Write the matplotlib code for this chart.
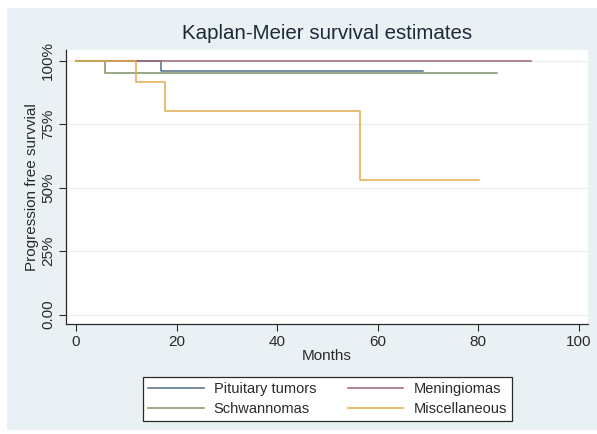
import matplotlib
matplotlib.use("Agg")
import matplotlib.pyplot as plt
from matplotlib.patches import Rectangle
from matplotlib.ticker import FixedLocator

plt.rcParams['font.family'] = ['Liberation Sans', 'DejaVu Sans']

# Data (step survival curves)
pit_t = [0, 16.9, 68.9]
pit_s = [1.0, 0.958, 0.958]
men_t = [0, 90.4]
men_s = [1.0, 1.0]
sch_t = [0, 5.8, 83.7]
sch_s = [1.0, 0.952, 0.952]
misc_t = [0, 11.9, 17.6, 56.4, 80.1]
misc_s = [1.0, 0.917, 0.80, 0.531, 0.531]

series_names = ["Pituitary tumors", "Meningiomas", "Schwannomas", "Miscellaneous"]
colors = ["#4f6f86", "#9c6470", "#7f916a", "#e2aa4c"]

xticks = [0, 20, 40, 60, 80, 100]
yticks = [0, 0.25, 0.5, 0.75, 1.0]
yticklabels = ["0.00", "25%", "50%", "75%", "100%"]

W, H = 597, 434
fig = plt.figure(figsize=(W / 100, H / 100), dpi=100)
fig.patch.set_facecolor("white")
bg = "#eaf1f4"
fig.patches.append(Rectangle((7 / W, 4 / H), 1 - 7 / W, (H - 12) / H,
                             transform=fig.transFigure, facecolor=bg,
                             edgecolor="none", zorder=-10))

ax = fig.add_axes([66 / W, 1 - 324 / H, (588 - 66) / W, (324 - 50) / H])
ax.set_facecolor("white")

data = [(pit_t, pit_s), (men_t, men_s), (sch_t, sch_s), (misc_t, misc_s)]
handles = []
for (t, s), c, name in zip(data, colors, series_names):
    h, = ax.step(t, s, where="post", color=c, lw=1.1, label=name)
    handles.append(h)

ax.set_xlim(-2, 101.8)
ax.set_ylim(-0.037, 1.042)
ax.xaxis.set_major_locator(FixedLocator(xticks))
ax.set_yticks(yticks)
ax.set_yticklabels(yticklabels, rotation=90, va="center")
ax.grid(axis="y", color="#eceff1", lw=0.9)
ax.set_axisbelow(True)

for sp in ["top", "right"]:
    ax.spines[sp].set_visible(False)
for sp in ["left", "bottom"]:
    ax.spines[sp].set_color("#2a2a2a")
    ax.spines[sp].set_linewidth(0.9)

ax.tick_params(axis="both", direction="out", length=5, width=0.8,
               color="#2a2a2a", labelsize=11, labelcolor="#2a2a2a", pad=3)

ax.set_xlabel("Months", fontsize=11, color="#2a2a2a", labelpad=0)
ax.set_ylabel("Progression free survvial", fontsize=11, color="#2a2a2a", labelpad=1)
ax.set_title("Kaplan-Meier survival estimates", fontsize=14.8, color="#1c2a3a", pad=8)

order = [0, 2, 1, 3]
leg = fig.legend([handles[i] for i in order], [series_names[i] for i in order],
                 ncol=2, loc="lower left",
                 bbox_to_anchor=(143 / W, 1 - 421 / H, (512 - 143) / W, 48 / H),
                 mode="expand", fontsize=10.5, frameon=True, fancybox=False,
                 edgecolor="#2a2a2a", facecolor="white", framealpha=1,
                 handlelength=3.8, handletextpad=0.7, borderaxespad=0,
                 labelspacing=0.4, columnspacing=1.0, borderpad=0.35)
leg.get_frame().set_linewidth(0.9)
for txt in leg.get_texts():
    txt.set_color("#2a2a2a")

fig.savefig("out.png", dpi=100, facecolor="white")
